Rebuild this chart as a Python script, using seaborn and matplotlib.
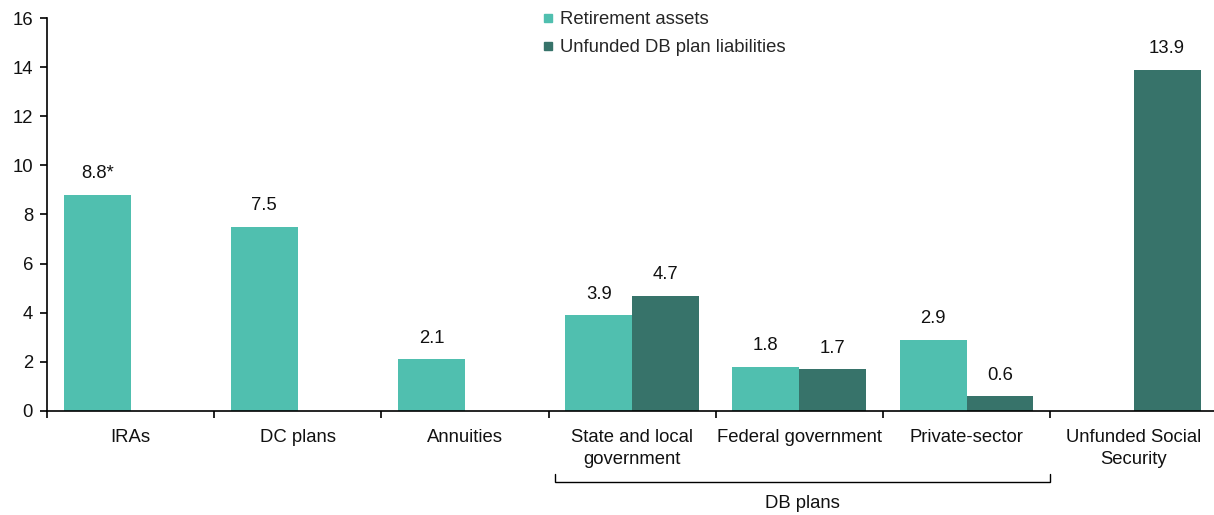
import numpy as np
import pandas as pd
import matplotlib
matplotlib.use("Agg")
import matplotlib.pyplot as plt
from matplotlib.lines import Line2D
import seaborn as sns

categories = ["IRAs", "DC plans", "Annuities", "State and local\ngovernment",
              "Federal government", "Private-sector", "Unfunded Social\nSecurity"]
series = ["Retirement assets", "Unfunded DB plan liabilities"]
retirement_assets = [8.8, 7.5, 2.1, 3.9, 1.8, 2.9, np.nan]
unfunded_liabilities = [np.nan, np.nan, np.nan, 4.7, 1.7, 0.6, 13.9]
label_suffix = ["*", "", "", "", "", "", ""]
y_ticks = [0, 2, 4, 6, 8, 10, 12, 14, 16]
group_label = "DB plans"
group_members = ["State and local\ngovernment", "Federal government", "Private-sector"]

colors = ["#50BFAF", "#37736A"]
FS = 13.3

sns.set_theme(style="white")
plt.rcParams["font.family"] = ["Liberation Sans", "DejaVu Sans"]
plt.rcParams["font.size"] = FS

df = pd.DataFrame({
    "category": categories * 2,
    "series": [series[0]] * len(categories) + [series[1]] * len(categories),
    "value": retirement_assets + unfunded_liabilities,
})

fig = plt.figure(figsize=(12.14, 5.15), dpi=100)
ax = fig.add_axes([0.0387, 0.202, 0.964, 0.763])

sns.barplot(data=df, x="category", y="value", hue="series", order=categories,
            hue_order=series, palette=colors, width=0.8, saturation=1,
            linewidth=0, legend=False, ax=ax)

# value labels above each bar
for s_idx, vals in enumerate([retirement_assets, unfunded_liabilities]):
    offset = -0.2 if s_idx == 0 else 0.2
    for i, v in enumerate(vals):
        if np.isnan(v):
            continue
        txt = f"{v:.1f}" + (label_suffix[i] if s_idx == 0 else "")
        ax.annotate(txt, (i + offset, v), xytext=(0, 9), textcoords="offset points",
                    ha="center", va="bottom", fontsize=FS, color="#111111")

ax.set_xlim(-0.5, len(categories) - 0.5)
ax.set_ylim(0, 16)
ax.set_yticks(y_ticks)
ax.set_yticklabels([str(t) for t in y_ticks])
ax.set_xlabel("")
ax.set_ylabel("")

# category labels centred, tick marks on the boundaries between categories
ax.set_xticks(range(len(categories)))
ax.set_xticklabels(categories, fontsize=FS, color="#111111", linespacing=1.38)
ax.set_xticks(np.arange(-0.5, len(categories), 1.0), minor=True)
ax.tick_params(axis="x", which="major", length=0, pad=13)
ax.tick_params(axis="x", which="minor", length=5, width=1.2, color="black", direction="out")
ax.tick_params(axis="y", length=5, width=1.2, color="black", direction="out",
               labelsize=FS, labelcolor="#111111", pad=5)
ax.tick_params(bottom=True, left=True, which="both")

for side in ["top", "right"]:
    ax.spines[side].set_visible(False)
for side in ["left", "bottom"]:
    ax.spines[side].set_color("black")
    ax.spines[side].set_linewidth(1.2)

# bracket grouping the DB plan categories
i0 = categories.index(group_members[0])
i1 = categories.index(group_members[-1])
x0, x1 = i0 - 0.46, i1 + 0.5
trans = ax.get_xaxis_transform()
ax.plot([x0, x0, x1, x1], [-0.16, -0.181, -0.181, -0.16], transform=trans,
        color="black", lw=1.0, clip_on=False, solid_joinstyle="miter")
ax.text((x0 + x1) / 2, -0.236, group_label, transform=trans, ha="center", va="center",
        fontsize=FS, color="#111111")

handles = [Line2D([0], [0], marker="s", linestyle="", markersize=6,
                  markerfacecolor=c, markeredgecolor=c) for c in colors]
ax.legend(handles, series, loc="upper left", bbox_to_anchor=(542 / 1214, 1 - 11 / 515),
          bbox_transform=fig.transFigure, frameon=False, fontsize=FS,
          handlelength=0.6, handletextpad=0.4, labelspacing=0.62, borderpad=0,
          borderaxespad=0)

fig.savefig("out.png", dpi=100)
